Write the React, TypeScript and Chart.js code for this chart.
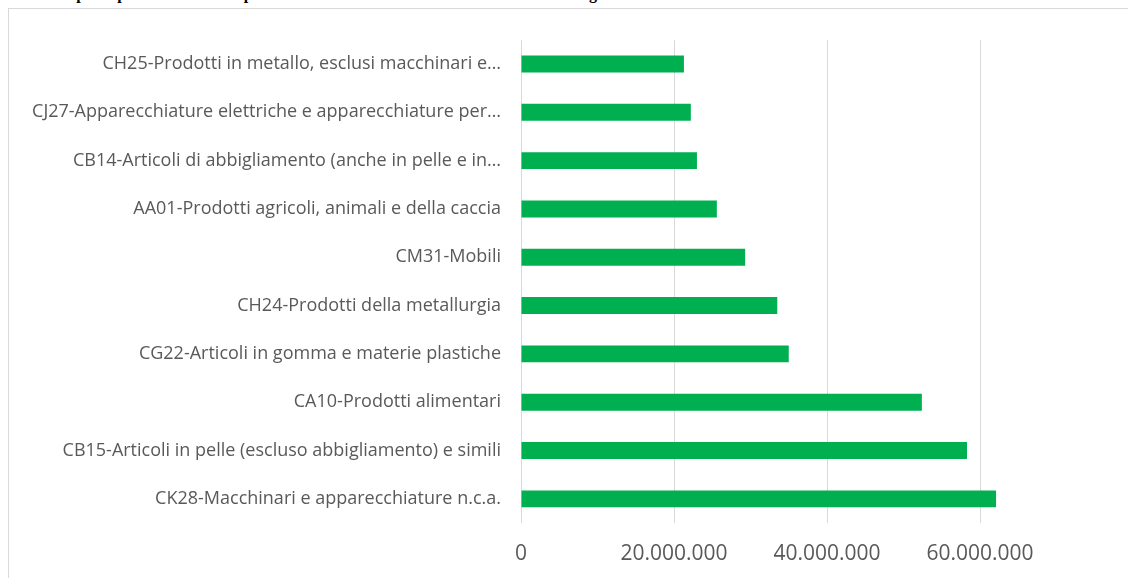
import React, { useEffect, useRef } from "react";
import { Chart, registerables } from "chart.js";

Chart.register(...registerables);

const categories = [
  "CH25-Prodotti in metallo, esclusi macchinari e…",
  "CJ27-Apparecchiature elettriche e apparecchiature per…",
  "CB14-Articoli di abbigliamento (anche in pelle e in…",
  "AA01-Prodotti agricoli, animali e della caccia",
  "CM31-Mobili",
  "CH24-Prodotti della metallurgia",
  "CG22-Articoli in gomma e materie plastiche",
  "CA10-Prodotti alimentari",
  "CB15-Articoli in pelle (escluso abbigliamento) e simili",
  "CK28-Macchinari e apparecchiature n.c.a.",
];

const exportValues = [
  21300000, 22200000, 23000000, 25600000, 29300000, 33500000, 35000000,
  52400000, 58300000, 62100000,
];

const axisMin = 0;
const axisMax = 80000000;
const axisStep = 20000000;

const titleText =
  "Tab. 8 – I principali dieci settori esportatori nel 2021 – valori in euro – nella nostra regione";

const formatIt = (v: number) =>
  String(Math.round(v)).replace(/\B(?=(\d{3})+(?!\d))/g, ".");

export default function App() {
  const canvasRef = useRef<HTMLCanvasElement | null>(null);

  useEffect(() => {
    const canvas = canvasRef.current;
    if (!canvas) return;
    const chart = new Chart(canvas, {
      type: "bar",
      data: {
        labels: categories,
        datasets: [
          {
            data: exportValues,
            backgroundColor: "#00b050",
            borderWidth: 0,
            barPercentage: 0.35,
            categoryPercentage: 1,
          },
        ],
      },
      options: {
        indexAxis: "y",
        responsive: false,
        animation: false,
        layout: { padding: { top: 29, right: 100, left: 0, bottom: 0 } },
        plugins: {
          legend: { display: false },
          tooltip: { enabled: false },
          title: { display: false },
        },
        scales: {
          x: {
            min: axisMin,
            max: axisMax,
            ticks: {
              stepSize: axisStep,
              color: "#595959",
              font: { family: "'Open Sans'", size: 21 },
              padding: 18,
              maxRotation: 0,
              autoSkip: false,
              callback: (v: any) =>
                Number(v) >= axisMax ? "" : formatIt(Number(v)),
            },
            grid: { color: "#d9d9d9", lineWidth: 1, drawTicks: false },
            border: { display: false },
            afterFit: (s: any) => {
              s.height = 66;
            },
          },
          y: {
            ticks: {
              color: "#595959",
              font: { family: "'Open Sans'", size: 18 },
              padding: 20,
              autoSkip: false,
            },
            grid: { display: false, drawTicks: false },
            border: { display: false },
            afterFit: (s: any) => {
              s.width = 512;
            },
          },
        },
      },
    });
    return () => chart.destroy();
  }, []);

  return (
    <>
      <div
        style={{
          position: "absolute",
          top: -14,
          left: 8,
          whiteSpace: "nowrap",
          fontFamily: "'Liberation Serif', 'Times New Roman', serif",
          fontWeight: "bold",
          fontSize: 16,
          lineHeight: "16px",
          color: "#000",
        }}
      >
        {titleText}
      </div>
      <div
        style={{
          position: "absolute",
          top: 8,
          left: 8,
          width: 1120,
          height: 570,
          overflow: "hidden",
          boxSizing: "border-box",
          borderTop: "1px solid #d9d9d9",
          borderLeft: "1px solid #d9d9d9",
          background: "#fff",
        }}
      >
        <canvas
          ref={canvasRef}
          width={1224}
          height={580}
          style={{ display: "block", width: 1224, height: 580 }}
        />
      </div>
    </>
  );
}
